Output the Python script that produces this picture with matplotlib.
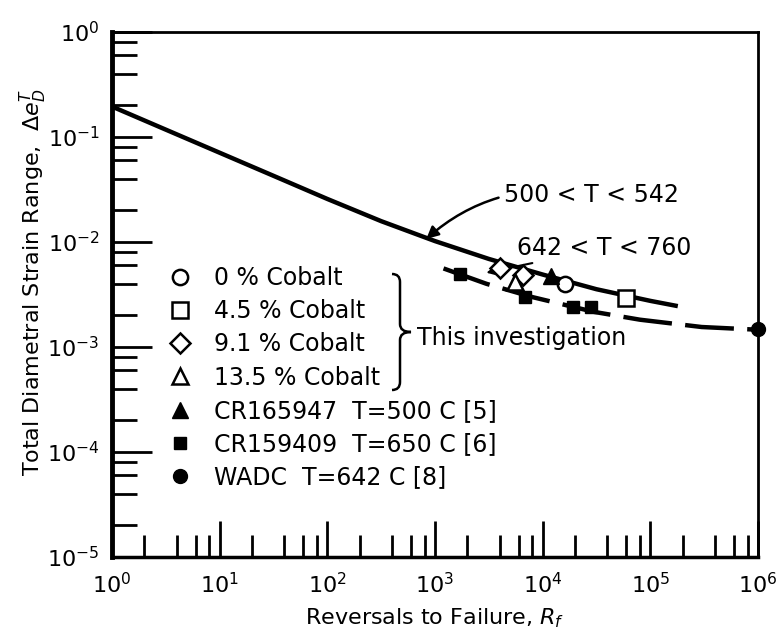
import matplotlib.pyplot as plt
from matplotlib.path import Path
from matplotlib.patches import PathPatch
from matplotlib.ticker import LogLocator, NullFormatter, LogFormatterSciNotation

# fitted strain-life curves
lo_N = [1, 3.16, 10, 31.6, 100, 316, 1e3, 3.16e3, 1e4, 3.16e4, 1e5, 1.8e5]
lo_e = [0.195, 0.1175, 0.0708, 0.0427, 0.0257, 0.0158, 0.0102, 0.0069, 0.0049, 0.00355, 0.00275, 0.00245]

hi_N = [1.2e3, 3e3, 8e3, 3e4, 8e4, 3e5, 1e6]
hi_e = [0.0056, 0.0040, 0.00299, 0.00216, 0.00182, 0.00155, 0.00146]

# test points
co0_N, co0_e = [1.6e4], [0.0040]
co45_N, co45_e = [6.0e4], [0.0029]
co91_N, co91_e = [4.0e3, 6.6e3], [0.0056, 0.0048]
co135_N, co135_e = [5.5e3], [0.0042]
cr165_N, cr165_e = [1.2e4], [0.0047]
cr159_N, cr159_e = [1.7e3, 6.8e3, 1.9e4, 2.8e4], [0.0050, 0.0030, 0.0024, 0.0024]
wadc_N, wadc_e = [1e6], [0.00148]

labels = ["0 % Cobalt", "4.5 % Cobalt", "9.1 % Cobalt", "13.5 % Cobalt",
          "CR165947  T=500 C [5]", "CR159409  T=650 C [6]", "WADC  T=642 C [8]"]

plt.rcParams['font.family'] = ['DejaVu Sans']
plt.rcParams['mathtext.fontset'] = 'dejavusans'

W, H = 783, 640
fig = plt.figure(figsize=(W / 100, H / 100), dpi=100)
L, R, T, B = 112, 758, 32, 557
ax = fig.add_axes([L / W, 1 - B / H, (R - L) / W, (B - T) / H])


def fx(px):
    return (px - L) / (R - L)


def fy(py):
    return (B - py) / (B - T)


ax.plot(lo_N, lo_e, color='k', lw=3.2, solid_capstyle='butt')
ax.plot(hi_N, hi_e, color='k', lw=3.2, linestyle=(0, (11, 3)), dash_capstyle='butt')

opn = dict(mfc='white', mec='k', mew=1.8, ls='none', zorder=5)
fil = dict(mfc='k', mec='k', ls='none', zorder=5)
h = []
h += ax.plot(co0_N, co0_e, marker='o', ms=11, **opn)
h += ax.plot(co45_N, co45_e, marker='s', ms=11, **opn)
h += ax.plot(co91_N, co91_e, marker='D', ms=10, **opn)
h += ax.plot(co135_N, co135_e, marker='^', ms=12, **opn)
h += ax.plot(cr165_N, cr165_e, marker='^', ms=11, **fil)
h += ax.plot(cr159_N, cr159_e, marker='s', ms=9, **fil)
h += ax.plot(wadc_N, wadc_e, marker='o', ms=10, **fil, clip_on=False)

ax.set_xscale('log')
ax.set_yscale('log')
ax.set_xlim(1, 1e6)
ax.set_ylim(1e-5, 1)

ax.xaxis.set_major_locator(LogLocator(base=10, numticks=10))
ax.yaxis.set_major_locator(LogLocator(base=10, numticks=10))
ax.xaxis.set_minor_locator(LogLocator(base=10, subs=[2, 4, 6, 8], numticks=10))
ax.yaxis.set_minor_locator(LogLocator(base=10, subs=[2, 4, 6, 8], numticks=10))
ax.xaxis.set_minor_formatter(NullFormatter())
ax.yaxis.set_minor_formatter(NullFormatter())
ax.xaxis.set_major_formatter(LogFormatterSciNotation())
ax.yaxis.set_major_formatter(LogFormatterSciNotation())

ax.tick_params(axis='y', which='major', direction='in', length=29, width=2, labelsize=16, pad=9)
ax.tick_params(axis='y', which='minor', direction='in', length=18, width=2)
ax.tick_params(axis='x', which='major', direction='in', length=26, width=2, labelsize=16, pad=11)
ax.tick_params(axis='x', which='minor', direction='in', length=16, width=2)
ax.tick_params(top=False, right=False, which='both')

ax.spines['left'].set_linewidth(3.5)
ax.spines['bottom'].set_linewidth(2.5)
ax.spines['top'].set_linewidth(2)
ax.spines['right'].set_linewidth(2)

ax.set_xlabel("Reversals to Failure, $R_f$", fontsize=16)
ax.set_ylabel("Total Diametral Strain Range,  $\\Delta e_D^T$", fontsize=16)
ax.xaxis.set_label_coords(0.5, fy(606))
ax.yaxis.set_label_coords(fx(49), fy(282))

leg = ax.legend(h, labels, loc='upper left', bbox_to_anchor=(fx(168), fy(266)),
                frameon=False, fontsize=17, handlelength=1.0, handletextpad=0.95,
                labelspacing=0.39, borderpad=0, borderaxespad=0, numpoints=1)

# brace grouping the cobalt series
xb, top, bot, tip = 400, 274, 390, 411
mid = (top + bot) / 2
pts = [(392, top), (xb, top), (xb, top + 8), (xb, mid - 8), (xb, mid), (tip, mid),
       (xb, mid), (xb, mid + 8), (xb, bot - 8), (xb, bot), (392, bot)]
codes = [Path.MOVETO, Path.CURVE3, Path.CURVE3, Path.LINETO, Path.CURVE3, Path.CURVE3,
         Path.CURVE3, Path.CURVE3, Path.LINETO, Path.CURVE3, Path.CURVE3]
brace = Path([(fx(px), fy(py)) for px, py in pts], codes)
ax.add_patch(PathPatch(brace, transform=ax.transAxes, fill=False, lw=1.8, color='k'))
ax.text(fx(417), fy(338), "This investigation", transform=ax.transAxes,
        fontsize=17, ha='left', va='center')

ax.annotate("500 < T < 542", xy=(830, 0.0107), xytext=(fx(504), fy(195)),
            textcoords='axes fraction', fontsize=17, ha='left', va='center',
            arrowprops=dict(arrowstyle='-|>', color='k', lw=1.8, mutation_scale=18,
                            connectionstyle='arc3,rad=0.25', shrinkA=2, shrinkB=0))
ax.annotate("642 < T < 760", xy=(3000, 0.0051), xytext=(fx(517), fy(248)),
            textcoords='axes fraction', fontsize=17, ha='left', va='center',
            arrowprops=dict(arrowstyle='-|>', color='k', lw=1.5, mutation_scale=12,
                            shrinkA=1, shrinkB=0))

fig.savefig("out.png", dpi=100)
